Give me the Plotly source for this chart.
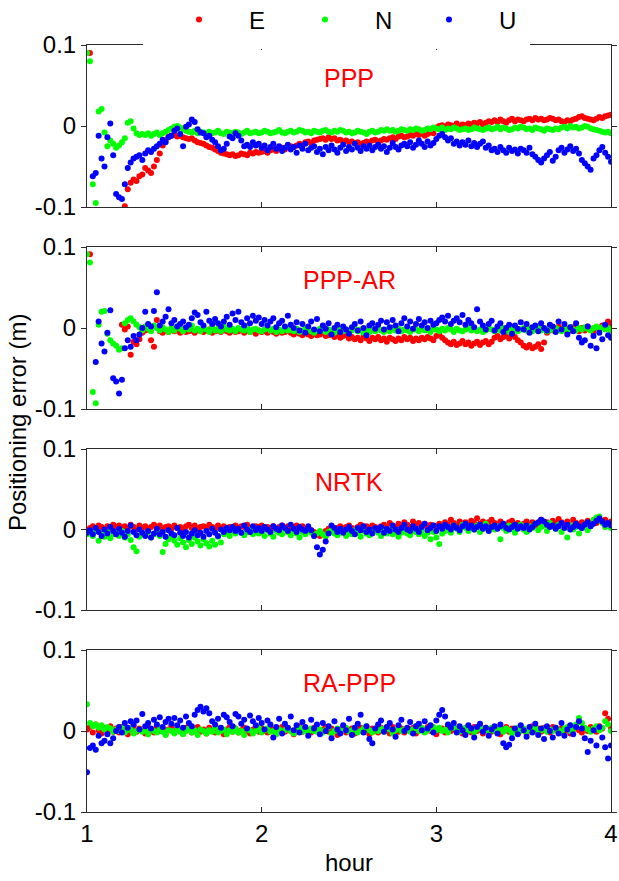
import plotly.graph_objects as go

W, H = 619, 881

# sampling epochs (hours), one per minute from 1 h to 4 h
hours = [1 + k / 60 for k in range(181)]

# ---------------- values in millimetres ----------------
E_PPP = [None, 90, None, None, None, None, None, None, None, None,
         None, None, None, -99, -78, -70, -66, -68, -62, -60,
         -52, -55, -58, -50, -42, -34, -24, -18, -13, -12,
         -11, -13, -12, -14, -15, -16, -15, -18, -20, -21,
         -22, -24, -26, -27, -29, -31, -33, -34, -35, -36,
         -35, -37, -36, -34, -35, -36, -33, -34, -32, -33,
         -32, -31, -33, -30, -29, -31, -28, -27, -29, -26,
         -25, -26, -24, -22, -23, -20, -19, -21, -18, -17,
         -16, -15, -17, -14, -16, -15, -18, -17, -19, -18,
         -20, -19, -21, -20, -22, -21, -19, -20, -18, -17,
         -19, -18, -16, -17, -15, -14, -16, -13, -12, -14,
         -13, -11, -12, -10, -11, -9, -12, -10, -8, -9,
         -2, 0, 1, -1, 2, 1, 0, 3, -1, 2,
         1, 3, 2, 4, 3, 5, 2, 4, 6, 5,
         7, 5, 8, 6, 4, 7, 9, 6, 8, 7,
         6, 8, 9, 7, 10, 8, 9, 7, 8, 10,
         9, 7, 8, 6, 5, 7, 6, 8, 9, 11,
         12, 10, 9, 8, 7, 9, 11, 10, 12, 13,
         14]
N_PPP = [90, 80, -72, -95, 18, 21, -8, -25, -18, -22,
         -27, -24, -20, -15, 4, 6, -3, -9, -11, -10,
         -11, -9, -12, -10, -8, -11, -9, -7, -5, -3,
         -1, 0, -2, -4, -6, -7, -8, -6, -9, -7,
         -8, -10, -7, -9, -8, -6, -9, -10, -7, -8,
         -9, -7, -8, -10, -8, -6, -9, -8, -7, -9,
         -8, -6, -7, -9, -8, -7, -5, -8, -9, -7,
         -6, -8, -7, -5, -6, -8, -7, -9, -6, -7,
         -8, -6, -5, -7, -8, -6, -7, -5, -6, -8,
         -7, -9, -8, -6, -7, -8, -10, -7, -6, -8,
         -7, -5, -6, -4, -6, -5, -7, -6, -4, -5,
         -6, -4, -5, -3, -4, -6, -5, -3, -4, -2,
         -3, -4, -2, -5, -3, -4, -2, -3, -5, -4,
         -3, -5, -4, -2, -3, -4, -5, -3, -2, -4,
         -3, -1, -4, -2, -3, -5, -4, -2, -3, -1,
         -2, -4, -3, -5, -2, -3, -4, -6, -3, -4,
         -5, -3, -4, -2, -1, -3, 0, -2, -1, -3,
         -2, 0, -1, -3, -4, -5, -6, -7, -8, -7,
         -9]
U_PPP = [None, None, -62, -58, -12, -40, -50, -14, 3, -36,
         -84, -88, -90, -72, -52, -45, -40, -38, -36, -42,
         -34, -30, -32, -28, -25, -22, -17, -20, -14, -12,
         -6, -3, -10, -25, -1, 2, 8, 5, -4, -8,
         -9, -14, -12, -17, -20, -25, -30, -28, -22, -13,
         -15, -9, -12, -18, -25, -23, -26, -20, -24, -22,
         -27, -24, -30, -26, -22, -28, -25, -31, -27, -23,
         -29, -26, -33, -24, -28, -22, -30, -27, -25, -32,
         -28, -35, -26, -30, -24, -29, -33, -27, -23, -31,
         -26, -29, -22, -27, -31, -25, -28, -24, -30, -26,
         -23, -28, -25, -32, -27, -21, -26, -29, -24, -22,
         -25, -20, -27, -23, -18, -22, -26, -19, -24, -21,
         -16, -12, -10, -14, -18, -15, -22, -19, -24, -20,
         -23, -18, -25, -21, -26, -22, -19, -27, -24, -30,
         -28, -32, -26, -30, -33, -27, -31, -29, -34, -28,
         -30, -33, -27, -35, -38, -42, -45, -40, -36, -32,
         -43, -38, -30, -27, -33, -29, -25, -31, -28, -34,
         -42, -46, -50, -54, -40, -36, -30, -26, -33, -38,
         -44]

E_AR = [None, 91, None, None, None, None, None, None, None, None,
        None, None, 4, -2, 2, -33, -17, -20, -14, -6,
        -3, -2, -15, -23, 10, -4, -6, -3, -5, -2,
        -4, -3, -6, -2, -5, -4, -3, -6, -2, -4,
        -5, -3, -2, -6, -4, -3, -5, -2, -4, -6,
        -3, -5, -4, -2, -6, -3, -5, -4, -7, -3,
        -5, -4, -6, -3, -5, -7, -4, -6, -5, -3,
        -6, -8, -5, -7, -9, -6, -8, -10, -7, -9,
        -8, -6, -10, -9, -7, -11, -8, -12, -10, -9,
        -13, -11, -14, -12, -15, -10, -13, -16, -12, -14,
        -11, -15, -13, -17, -12, -14, -16, -13, -15, -11,
        -14, -12, -16, -13, -15, -12, -14, -11, -13, -15,
        -10, -8, -12, -15, -18, -20, -17, -21, -19, -16,
        -20, -18, -22, -19, -17, -21, -18, -16, -20, -17,
        -12, -10, -14, -11, -9, -13, -8, -11, -15, -18,
        -22, -24, -21, -25, -23, -20, -26, -18, -6, -3,
        -1, -4, 2, -2, 0, -5, -3, 1, -2, -4,
        0, -3, 2, -1, -5, 1, -2, 3, -1, 8,
        3]
N_AR = [91, 81, -79, -93, 4, 20, 21, -7, -15, -19,
        -22, -27, -25, 6, 10, 12, 8, 4, 1, -3,
        2, -1, -4, 3, 0, -3, 1, -2, -5, 0,
        -3, 2, -1, -4, 0, -2, 3, -3, -1, -4,
        0, -2, -5, 1, -3, -1, -4, 2, -2, -3,
        -1, -4, 0, -2, -3, 1, -5, -2, -1, -3,
        -4, -2, 0, -3, -1, -5, -2, -4, 1, -3,
        -2, -4, -1, -5, -3, 0, -2, -4, -6, -3,
        -1, -3, -5, -2, -4, -6, -3, -1, -4, -2,
        -5, -3, -1, -4, -2, -6, -3, -5, -2, -4,
        -1, -3, -5, -2, -4, 0, -3, -1, -4, -2,
        -3, -5, -1, -2, -4, 1, -3, -2, -5, -1,
        -2, -4, -1, -3, 0, -2, -5, -1, -3, -4,
        -2, 0, -3, -1, -4, -2, -5, -3, -1, -2,
        -4, -1, -3, 0, -2, -5, -1, -3, -4, -2,
        0, -3, -1, -4, -2, 1, -3, -2, -4, -1,
        -3, 0, -2, -4, -1, -3, 1, -2, -3, 0,
        -2, 1, -1, -3, 0, 2, -1, 1, -2, 0,
        -3]
U_AR = [None, None, None, -42, 8, -19, -29, -6, 22, -62,
        -66, -81, -64, -25, -15, -23, -10, -15, -8, 0,
        20, 5, 2, 21, 44, 3, 8, 14, 23, 6,
        10, 2, 5, 8, 1, 4, 12, 19, 16, 7,
        3, 20, 9, 5, 11, 6, 2, 8, 14, 4,
        18, 10, 20, 7, 3, 12, 6, 15, 9, 13,
        5, 10, 3, 8, 12, 1, 6, 9, 2, 15,
        4, 0, 7, -3, 5, -6, 2, 8, -2, 11,
        -4, 3, -1, 6, -8, 0, 4, -5, 2, -2,
        -7, 1, 5, -3, 8, 0, -9, 3, 6, -1,
        4, 9, -2, 7, 1, 10, 3, -4, 6, 12,
        2, 8, -1, 5, 11, 3, 7, 0, 9, 4,
        6, 10, 13, 8, 15, 5, 9, 12, 7, 16,
        4, 10, 6, 1, 23, 8, 3, -2, 5, 9,
        -3, 2, 6, -5, 0, 4, -7, 3, -1, 7,
        -2, 5, -6, 1, 3, -4, 6, 0, -3, 4,
        2, -5, 8, -2, 5, -8, 1, -4, 6, -12,
        -18, -15, 2, -22, -10, -25, -6, -14, 4, -9,
        -12]

E_NRTK = [-3, 2, 4, 1, 5, 3, 0, 4, 2, 6,
          3, 5, 1, 4, 2, 6, 3, 0, 5, 2,
          4, 1, 3, 6, 2, 5, 0, 3, 4, 1,
          5, 2, 3, 0, 4, 6, 2, 5, 1, 3,
          4, 2, 6, 3, 1, 5, 2, 4, 0, 3,
          2, 5, 1, 4, 3, 6, 2, 0, 4, 3,
          5, 1, 3, 2, 4, 0, 3, 5, 2, 4,
          1, 3, 5, 2, 4, 0, 2, -1, -3, -6,
          -8, -5, -2, 1, 3, 0, 2, 4, 1, 3,
          5, 2, 0, 3, 6, 1, 4, 2, 5, 3,
          1, 4, 6, 2, 8, 5, 3, 7, 4, 9,
          6, 3, 10, 5, 8, 4, 7, 2, 6, 5,
          4, 7, 3, 9, 6, 12, 8, 5, 10, 7,
          9, 6, 11, 8, 14, 7, 10, 5, 9, 12,
          8, 6, 10, 7, 5, 9, 11, 6, 8, 4,
          7, 10, 6, 9, 5, 8, 12, 7, 9, 6,
          11, 8, 13, 9, 7, 10, 6, 12, 8, 5,
          9, 7, 11, 6, 10, 8, 14, 9, 12, 7,
          10]
N_NRTK = [-6, -3, -8, -2, -14, -5, -9, -3, -11, -6,
          -4, -8, -2, -10, -6, -13, -22, -27, -9, -5,
          -7, -3, -10, -6, -2, -8, -28, -18, -12, -9,
          -14, -19, -11, -16, -22, -13, -18, -10, -15, -20,
          -12, -17, -21, -14, -19, -9, -16, -6, -3, -8,
          -2, -5, -1, -4, -7, -3, 0, -6, -2, -5,
          -3, -8, -1, -5, -9, -2, -4, -6, 0, -3,
          -7, -2, -5, -10, -3, -6, -1, -4, -8, -5,
          -2, -6, -9, -3, -1, -5, -7, -4, -2, -8,
          -3, -6, -1, -4, -9, -2, -5, -7, -3, 0,
          -4, -8, -2, -5, -1, -6, -3, -9, -4, -2,
          -5, -7, -1, -3, -6, -2, -8, -4, -12, -3,
          -10, -18, -5, -2, 3, -4, 5, 1, -3, 6,
          2, -2, 4, 0, 5, -3, 1, 7, -1, 3,
          0, 4, -12, 2, -2, 5, 1, -4, 3, 6,
          0, -3, 4, 2, 7, -1, 3, 5, -2, 8,
          4, 1, 6, -3, 2, -10, 5, 0, 3, -5,
          2, 6, -1, 4, 12, 15, 16, 8, 3, 5,
          2]
U_NRTK = [-4, -1, -6, 2, -3, -8, 0, -5, 3, -2,
          -6, 1, -4, -9, -2, 5, -3, -7, 0, -4,
          -8, -2, -10, -5, 1, -6, -3, -9, -1, -5,
          -7, 2, -4, -8, -3, -10, -5, -1, -7, -4,
          -9, -2, -6, 1, -4, -8, 0, -3, 2, -1,
          3, -2, 1, -4, 5, 0, -3, 4, -1, 2,
          -2, 3, 0, -3, 4, 1, -1, 5, 2, -2,
          6, 1, -3, 3, 0, -2, 4, -1, -8, -22,
          -31, -25, -15, -5, 5, 2, -3, 1, -4, 0,
          3, -2, -6, 2, -1, 4, -3, 0, -5, 2,
          -1, 3, -4, 1, -2, 5, 0, -3, 2, 6,
          0, -2, 4, 1, -3, 3, 7, -1, 2, 5,
          -2, 4, 1, 6, 3, 0, 5, 2, -1, 4,
          7, 2, 5, 0, 3, 6, 1, 4, -2, 3,
          5, 1, 4, 7, 2, 0, 3, 6, 1, 4,
          2, 5, 0, 3, 7, 9, 12, 10, 6, 3,
          5, 1, 4, 8, 2, 6, 0, 3, 7, 4,
          2, 6, 9, 4, 7, 11, 14, 10, 6, 8,
          5]

E_RA = [2, 5, -2, 8, 1, -3, 4, 0, 6, -1,
        3, -2, 5, 1, -4, 2, 6, -1, 3, 0,
        -3, 4, 1, -2, 5, 0, 3, -4, 2, 6,
        -1, 3, 0, -3, 4, 2, -2, 1, 5, -1,
        2, -3, 4, 0, -2, 3, 1, -4, 2, 5,
        -1, 3, -2, 1, 4, 0, -3, 2, 5, -1,
        3, 0, -2, 4, 1, -3, 2, 5, -1, 3,
        0, -4, 2, 6, -1, 3, 1, -2, 4, 0,
        -3, 2, 5, -1, 3, 0, -5, 2, 4, -2,
        1, 3, -3, 0, 4, -1, 2, -4, 3, 1,
        -2, 4, 0, 2, -3, 5, 1, -1, 3, -2,
        2, 0, 4, -3, 1, 3, -1, 5, 0, 2,
        -4, 1, 3, -2, 6, 0, 2, -1, 4, -3,
        1, 3, -2, 5, 0, 2, -3, 4, 1, -1,
        3, 0, -4, 2, 5, -1, 3, 0, -2, 4,
        1, -3, 2, 6, 0, 3, -1, 4, 2, -2,
        5, 1, -1, 3, 0, 4, -3, 2, 6, 1,
        -2, 3, 0, 5, 2, -1, 6, 3, 22, 15,
        4]
N_RA = [33, 10, 6, 8, 4, 7, 2, 5, 3, -1,
        2, 0, 4, -2, 1, 3, -3, 0, 2, -1,
        1, -4, 2, 0, -2, 3, -1, -5, 1, 0,
        -3, 2, -1, -4, 0, 3, -2, 1, -5, 2,
        0, -3, 1, -1, 4, -2, 0, 2, -4, 1,
        -1, 3, -2, 0, -5, 2, 1, -3, 0, 4,
        -2, 1, 3, -1, 0, -4, 2, -2, 1, 3,
        0, -3, 2, 4, -1, 1, -2, 3, 0, -1,
        2, -2, 1, 5, -3, 0, 3, -1, 2, 4,
        -1, 1, 4, -2, 0, 3, 6, 1, -2, 2,
        0, 3, -1, 5, 2, -3, 1, 4, 0, 2,
        3, -1, 2, 6, 0, 4, -2, 1, 3, 5,
        1, 4, 0, 2, -2, 3, 5, 1, -1, 2,
        4, 0, 3, -2, 2, 6, 1, 3, -1, 4,
        0, 2, 5, -1, 3, 1, -3, 2, 4, 0,
        3, -1, 2, 0, 4, -2, 1, 3, -1, 2,
        0, 4, 1, -2, 3, 5, 0, 2, 8, 16,
        10, 4, 2, -1, 3, 6, 1, 4, 12, 8,
        0]
U_RA = [-51, -21, -18, -23, -6, -15, -12, -4, -15, -9,
        0, 5, -2, 10, 4, 12, 8, 13, 2, 21,
        6, 10, 3, 14, 8, 17, 5, 11, 15, 9,
        16, 7, 13, 4, 18, 10, 6, 20, 26, 30,
        24, 28, 22, 12, 8, 15, 4, 20, 17, 11,
        6, 21, 18, 9, 14, 3, 19, 12, 7, 16,
        10, 2, 13, 8, -8, 5, 15, -3, 9, 4,
        18, 1, 7, -2, 11, 5, -6, 14, 3, 8,
        -4, 10, 0, 6, -9, 12, 2, -3, 7, 1,
        15, -5, 4, 9, 20, -2, 6, -10, -15, 3,
        8, 13, -1, 5, 10, 2, -7, 7, 14, 0,
        4, 11, -3, 6, 9, 1, 12, 3, 7, -2,
        13, 20, 26, 18, 8, 4, 10, -2, 6, 1,
        -5, 7, 3, -8, 5, 9, -1, 4, -6, 2,
        6, -3, 8, -15, -20, -17, -9, 3, -4, 7,
        1, -7, 5, -2, 9, -5, 3, -10, 6, 0,
        -8, 4, -3, 10, -6, 2, 7, -4, 5, 12,
        3, -9, -26, -12, 1, -18, 5, -8, -20, -34,
        -18]

panel_names = ["PPP", "PPP-AR", "NRTK", "RA-PPP"]
panel_data = [(E_PPP, N_PPP, U_PPP), (E_AR, N_AR, U_AR),
              (E_NRTK, N_NRTK, U_NRTK), (E_RA, N_RA, U_RA)]
components = ["E", "N", "U"]
comp_colors = ["#ff0000", "#00ff00", "#0000ff"]
legend_ids = ["legend", "legend2", "legend3"]

y_ticks = [-0.1, 0, 0.1]
y_ticktext = ["-0.1", "0", "0.1"]
x_ticks = [1, 2, 3, 4]

FONT = "Liberation Sans, Arial, sans-serif"
LINE = "#2b2b2b"


def fx(px):
    return px / W


def fy(px):
    return 1 - px / H


x_left, x_right = 87, 611
tops = [45, 247, 449, 650]
bottoms = [207, 409, 610, 812]

fig = go.Figure()
layout = {}
annotations = []

for i, name in enumerate(panel_names):
    sfx = "" if i == 0 else str(i + 1)
    for comp, vals, col, leg in zip(components, panel_data[i], comp_colors, legend_ids):
        yv = [None if v is None else v / 1000.0 for v in vals]
        fig.add_trace(go.Scatter(
            x=hours, y=yv, mode="markers", name=comp,
            marker=dict(color=col, size=6, line=dict(width=0)),
            xaxis="x" + sfx, yaxis="y" + sfx,
            showlegend=(i == 0), legend=leg, legendgroup=comp,
        ))
    layout["xaxis" + sfx] = dict(
        domain=[fx(x_left), fx(x_right)], anchor="y" + sfx, range=[1, 4],
        tickvals=x_ticks, ticks="inside", ticklen=5, tickcolor=LINE,
        mirror="ticks", showline=True, linecolor=LINE, linewidth=1,
        showgrid=False, zeroline=False, showticklabels=(i == 3),
        tickfont=dict(family=FONT, size=24, color="#000000"),
    )
    layout["yaxis" + sfx] = dict(
        domain=[fy(bottoms[i]), fy(tops[i])], anchor="x" + sfx,
        range=[-0.1, 0.1], tickvals=y_ticks, ticktext=y_ticktext,
        ticks="outside", ticklen=5, tickcolor=LINE, mirror="ticks",
        showline=True, linecolor=LINE, linewidth=1,
        showgrid=False, zeroline=False,
        tickfont=dict(family=FONT, size=24, color="#000000"),
    )
    annotations.append(dict(
        text=name, xref="x" + sfx, yref="y" + sfx + " domain",
        x=2.5, y=1 - 33 / 162, xanchor="center", yanchor="middle",
        showarrow=False, font=dict(family=FONT, size=25, color="#ff0000"),
    ))

annotations.append(dict(
    text="hour", xref="paper", yref="paper", x=fx(349), y=fy(862),
    xanchor="center", yanchor="middle", showarrow=False,
    font=dict(family=FONT, size=24, color="#000000"),
))
annotations.append(dict(
    text="Positioning error (m)", xref="paper", yref="paper",
    x=fx(18), y=fy(423), xanchor="center", yanchor="middle",
    textangle=-90, showarrow=False,
    font=dict(family=FONT, size=24, color="#000000"),
))

legend_marker_x = [199, 325, 449]
for leg, mx in zip(legend_ids, legend_marker_x):
    layout[leg] = dict(
        xref="container", yref="container", x=fx(mx - 50), y=fy(20),
        xanchor="left", yanchor="middle", orientation="h", itemwidth=90,
        bgcolor="rgba(0,0,0,0)", borderwidth=0,
        font=dict(family=FONT, size=24, color="#000000"),
    )

fig.update_layout(
    width=W, height=H,
    margin=dict(l=0, r=0, t=0, b=0, autoexpand=False),
    paper_bgcolor="white", plot_bgcolor="white",
    font=dict(family=FONT, color="#000000"),
    annotations=annotations,
    shapes=[dict(type="rect", xref="paper", yref="paper",
                 x0=fx(143), x1=fx(530), y0=fy(49), y1=fy(41),
                 fillcolor="white", line=dict(width=0), layer="above")],
    **layout,
)

fig.write_html("out.html")
